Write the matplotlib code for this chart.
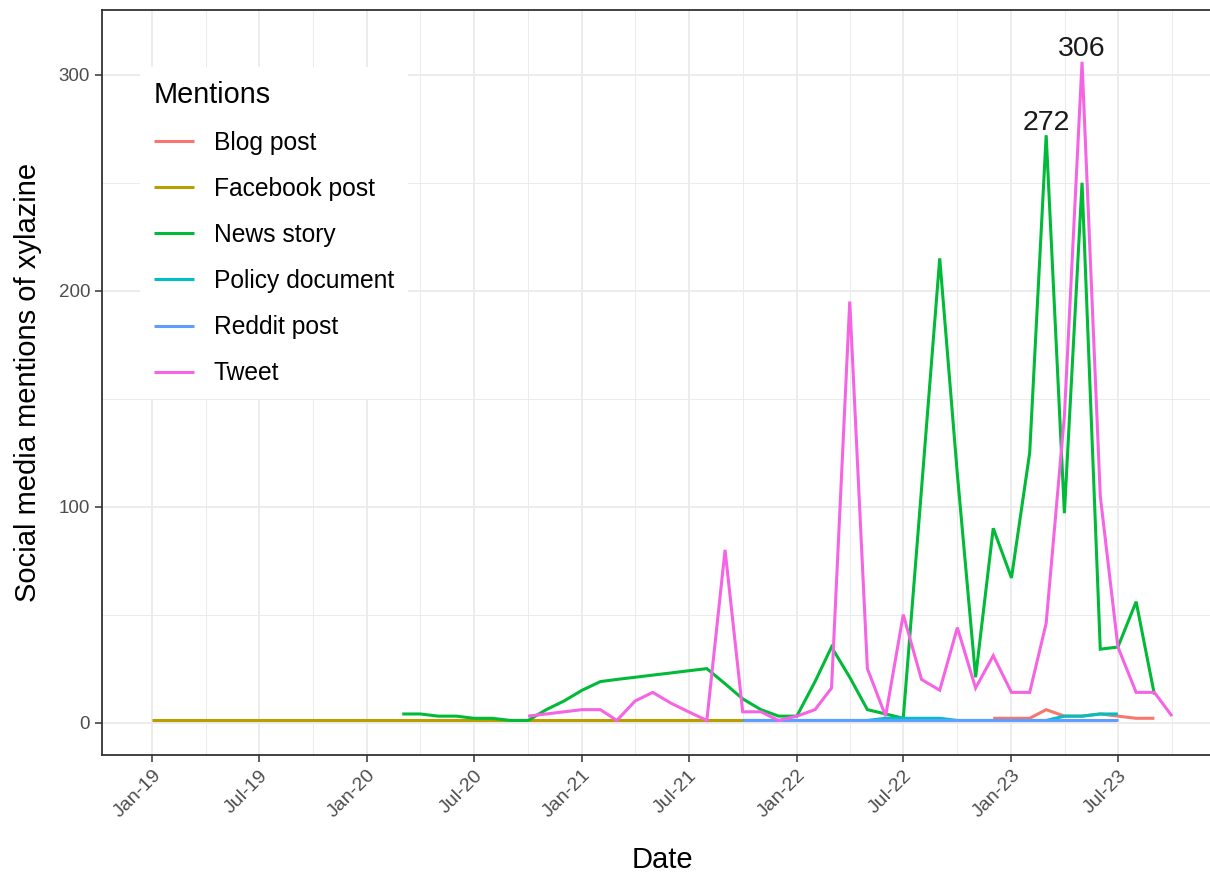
import numpy as np
import pandas as pd
import matplotlib
matplotlib.use("Agg")
import matplotlib.pyplot as plt
import matplotlib.dates as mdates

plt.rcParams['font.family'] = ['Liberation Sans', 'DejaVu Sans']

# ── Data (monthly counts) ───────────────────────────────────────────────────
series_names = ['Blog post', 'Facebook post', 'News story',
                'Policy document', 'Reddit post', 'Tweet']
series_colors = ['#F8766D', '#B79F00', '#00BA38', '#00BFC4', '#619CFF', '#F564E3']

blog_start = '2022-12-01'
blog_vals = [2, 2, 2, 6, 3, 3, 4, 3, 2, 2]

facebook_start = '2019-01-01'
facebook_vals = [1] * 34

news_start = '2020-03-01'
news_vals = [4, 4, 3, 3, 2, 2, 1, 1, 6, 10,
             15, 19, 20, 21, 22, 23, 24, 25, 18, 11, 6, 3,
             3, 19, 35, 21, 6, 4, 2, 108, 215, 115, 21, 90,
             67, 125, 272, 97, 250, 34, 35, 56, 13]

policy_start = '2021-10-01'
policy_vals = [1, 1, 1, 1, 1, 1, 1, 1, 2, 2, 2, 2,
               1, 1, 1, 1, 1, 1, 3, 3, 4, 4]

reddit_start = '2021-10-01'
reddit_vals = [1] * 22

tweet_start = '2020-10-01'
tweet_vals = [3, 4, 5,
              6, 6, 1, 10, 14, 9, 5, 1, 80, 5, 5, 1,
              3, 6, 16, 195, 25, 3, 50, 20, 15, 44, 16, 31,
              14, 14, 46, 142, 306, 105, 35, 14, 14, 3]

starts = [blog_start, facebook_start, news_start, policy_start, reddit_start, tweet_start]
values = [blog_vals, facebook_vals, news_vals, policy_vals, reddit_vals, tweet_vals]

# peaks that get a number on top
labelled = [('News story', '2023-03-01', 272), ('Tweet', '2023-05-01', 306)]

x_breaks = pd.date_range('2019-01-01', '2023-07-01', freq='6MS')

# ── Figure ──────────────────────────────────────────────────────────────────
fig = plt.figure(figsize=(12.1, 8.73), dpi=100)
ax = fig.add_axes([102 / 1210, 118 / 873, 1121 / 1210, 745 / 873])

for name, col, start, vals in zip(series_names, series_colors, starts, values):
    dates = pd.date_range(start, periods=len(vals), freq='MS')
    ax.plot(dates, vals, color=col, lw=2.2, label=name, solid_capstyle='butt',
            solid_joinstyle='miter')

for name, d, v in labelled:
    ax.annotate(str(v), (pd.Timestamp(d), v), xytext=(0, 4),
                textcoords='offset points', ha='center', va='baseline',
                fontsize=20.5, color='#1a1a1a')

# limits
x0 = pd.Timestamp('2019-01-01')
ax.set_xlim(x0 - pd.Timedelta(days=85.5), x0 + pd.Timedelta(days=1820.7))
ax.set_ylim(-15, 330)

# grid (theme_bw look)
ax.set_xticks(x_breaks)
ax.set_xticklabels([d.strftime('%b-%y') for d in x_breaks], rotation=45,
                   ha='right', va='top', rotation_mode='anchor',
                   fontsize=14, color='#4D4D4D')
mids = x_breaks[:-1] + (x_breaks[1:] - x_breaks[:-1]) / 2
mids = mids.append(pd.DatetimeIndex([x_breaks[-1] + pd.Timedelta(days=92)]))
ax.set_xticks(mids, minor=True)
ax.set_yticks([0, 100, 200, 300])
ax.set_yticks([50, 150, 250], minor=True)
ax.tick_params(axis='y', labelsize=13.5, labelcolor='#4D4D4D')
ax.tick_params(which='major', length=5, width=1.1, color='#333333')
ax.tick_params(which='minor', length=0)
ax.grid(True, which='major', color='#EBEBEB', lw=1.3)
ax.grid(True, which='minor', color='#EBEBEB', lw=0.7)
ax.set_axisbelow(True)
for s in ax.spines.values():
    s.set_color('#333333')
    s.set_linewidth(1.3)

ax.set_xlabel('Date', fontsize=21, color='black', labelpad=18)
ax.set_ylabel('Social media mentions of xylazine', fontsize=21, color='black', labelpad=12)

leg = ax.legend(title='Mentions', loc='upper left',
                bbox_to_anchor=((140 - 102) / 1121, (755 - 67) / 745),
                bbox_transform=ax.transAxes, frameon=True, fancybox=False,
                edgecolor='none', facecolor='white', framealpha=1,
                fontsize=17.7, title_fontsize=20.8, handlelength=1.63,
                handletextpad=0.82, labelspacing=0.9, borderpad=0.55,
                borderaxespad=0, alignment='left')
for line in leg.get_lines():
    line.set_linewidth(2.2)

fig.savefig('out.png', dpi=100)
